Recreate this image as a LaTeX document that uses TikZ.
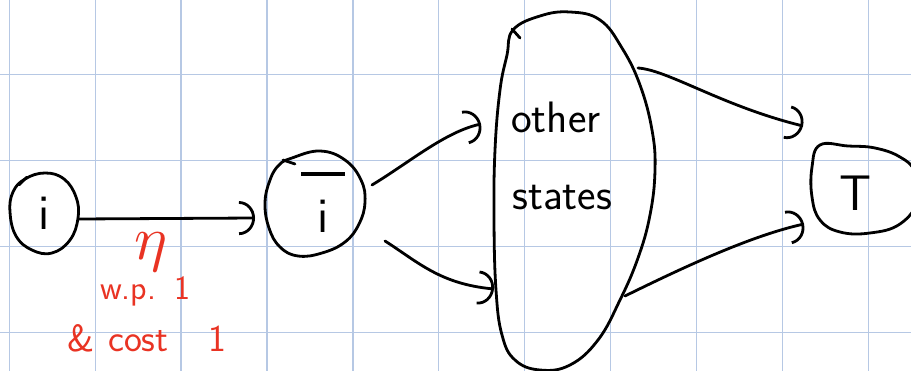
\documentclass[tikz,border=0pt]{standalone}
\usepackage{unicode-math}
\setmathfont{Latin Modern Math}
\usetikzlibrary{arrows.meta}
\definecolor{gridblue}{RGB}{182,200,228}
\definecolor{inkred}{RGB}{233,51,35}
\begin{document}
\begin{tikzpicture}[x=1pt,y=-1pt,
  gridline/.style={draw=gridblue, line width=1.3pt},
  ink/.style={draw=black, line width=2.8pt, line cap=round, line join=round},
  conn/.style={ink, -{Arc Barb[width=34pt,length=16pt]}},
  lbl/.style={inner sep=0pt, font=\sffamily\fontsize{44}{48}\selectfont},
  biglbl/.style={inner sep=0pt, font=\sffamily\fontsize{50}{54}\selectfont},
  redlbl/.style={inner sep=0pt, text=inkred, font=\sffamily\fontsize{34}{38}\selectfont}]
\useasboundingbox (0,0) rectangle (911,371);
\fill[white] (0,0) rectangle (911,371);
\clip (0,0) rectangle (911,371);
% grid
\foreach \k in {0,...,10} \draw[gridline] ({9.3+85.9*\k},0) -- ({9.3+85.9*\k},371);
\foreach \yy in {74.5,160.5,246.5,332.5} \draw[gridline] (0,\yy) -- (911,\yy);
% state blobs
\draw[ink] plot[smooth cycle, tension=0.7] coordinates {(25,179) (45,173) (64,179) (76,197) (78,218) (70,240) (52,253) (32,250) (16,236) (10,212) (13,192)};
\draw[ink] (19,185) -- (27,177);
\draw[ink] plot[smooth cycle, tension=0.7] coordinates {(292,158) (320,151) (345,160) (361,180) (365,202) (359,224) (345,242) (322,253) (298,256) (280,247) (269,228) (265,203) (270,180) (279,165)};
\draw[ink] (283,160) -- (295,164);
\draw[ink] plot[smooth cycle, tension=0.7] coordinates {(513,30) (540,16) (570,12) (600,20) (622,48) (640,85) (652,130) (655,170) (650,215) (638,258) (620,300) (598,340) (570,365) (540,370) (515,360) (502,335) (496,290) (494,220) (495,150) (500,90) (507,55)};
\draw[ink] (512,29) -- (520,38);
\draw[ink] plot[smooth cycle, tension=0.7] coordinates {(820,145) (848,146) (875,148) (900,157) (915,172) (918,200) (900,224) (870,233) (840,232) (820,220) (812,197) (812,167)};
% labels
\node[biglbl] (itext) at (44,213) {i};
\node[biglbl, anchor=north] (ibartext) at (323,172) {\vbox{\hbox to 44pt{\rule{44pt}{3.5pt}}\vskip 3pt\hbox to 44pt{\hss i\hss}}};
\node[lbl, anchor=base west] (other) at (511,133) {other};
\node[lbl, anchor=base west] (states) at (512,210) {states};
\node[biglbl] (ttext) at (856,193) {T};
\node[redlbl, font=\fontsize{62}{66}\selectfont] (eta) at (151,252) {$\eta$};
\node[redlbl, anchor=base west] (wp) at (100,300) {w.p.\hspace{18pt}1};
\node[redlbl, font=\sffamily\fontsize{38}{42}\selectfont, anchor=base west] (cost) at (67,352) {\&\hspace{14pt}cost\hspace{40pt}1};
% connector end points
\coordinate (iout) at (79,219);
\coordinate (ibarin) at (255,218);
\coordinate (ibarup) at (372,185);
\coordinate (otherin1) at (481,124);
\coordinate (ibarlow) at (385,241);
\coordinate (otherin2) at (494,289);
\coordinate (otherup) at (638,68);
\coordinate (tin1) at (803,126);
\coordinate (otherlow) at (625,296);
\coordinate (tin2) at (804,224);
% connectors
\draw[conn] (iout) -- (ibarin);
\draw[conn] (ibarup) .. controls (410,162) and (445,132) .. (otherin1);
\draw[conn] (ibarlow) .. controls (418,262) and (440,284) .. (otherin2);
\draw[conn] (otherup) .. controls (668,70) and (722,106) .. (tin1);
\draw[conn] (otherlow) .. controls (682,268) and (750,236) .. (tin2);
\end{tikzpicture}
\end{document}
